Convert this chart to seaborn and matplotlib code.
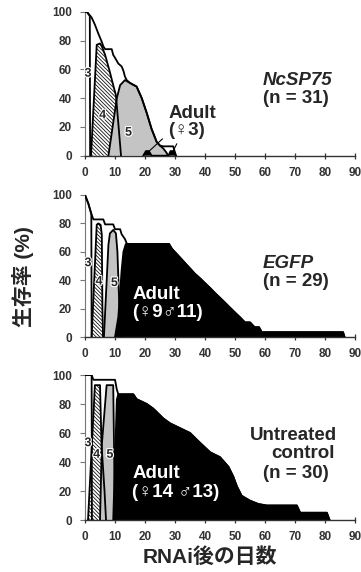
import numpy as np
import pandas as pd
import matplotlib
matplotlib.use('Agg')
import matplotlib.pyplot as plt
import matplotlib.patheffects as pe
import seaborn as sns

sns.set_style('ticks')
plt.rcParams['font.family'] = ['Liberation Sans', 'Noto Sans CJK JP', 'DejaVu Sans']
plt.rcParams['hatch.linewidth'] = 0.6

# ============ データ（日数, 生存率 %）============
# NcSP75 (n = 31)
ncsp_total_x = [0, 0.6, 2.2, 3.3, 4.4, 5.6, 6.1, 6.7, 8.9, 9.4, 10.0, 11.1, 12.2, 12.8, 13.3, 13.9,
                15.0, 17.2, 18.9, 20.6, 22.2, 23.9, 25.0, 26.1, 29.4, 30.3]
ncsp_total_y = [100, 100, 96, 91, 85, 79, 76, 74, 74, 70, 68, 64, 62, 59, 55, 52.5,
                50.5, 48, 40, 29.5, 18.5, 9.5, 7, 6.5, 6.5, 0]
ncsp_s3_x = [0, 0.6, 1.6, 1.7]
ncsp_s3_y = [100, 100, 97, 0]
ncsp_s4_x = [2.0, 3.9, 5.0, 5.6, 6.7, 8.3, 9.4, 10.3, 11.2, 12.0]
ncsp_s4_y = [0, 77, 78, 76, 70, 58, 49, 42, 20, 0]
ncsp_s5_x = [7.8, 10.6, 11.7, 13.3, 15.0, 17.2, 18.9, 20.6, 22.2, 23.9, 25.0, 26.1, 27.2, 27.6]
ncsp_s5_y = [0, 40, 49, 52.5, 50.5, 48, 40, 29.5, 18.5, 9.5, 7, 5, 2, 0]
ncsp_ad_x = [19.4, 20.3, 21.3, 22.2, 27.8, 28.5, 29.5, 30.3]
ncsp_ad_y = [0, 3.2, 3.2, 0, 0, 3.2, 3.2, 0]

# EGFP (n = 29)
egfp_total_x = [0, 1.1, 2.2, 2.8, 6.1, 6.7, 9.4, 10.0, 11.7, 12.2, 13.3, 14.0, 28.0, 29.0, 30.5,
                32.0, 33.5, 35.0, 36.5, 38.3, 40.0, 41.7, 43.3, 45.0, 46.7, 48.3, 50.0, 51.7,
                53.3, 55.0, 56.5, 58.0, 58.9, 86.0, 86.5]
egfp_total_y = [100, 94, 86.2, 82.8, 82.8, 79.3, 79.3, 75.9, 75.9, 72.4, 69, 65.5, 65.5, 62, 58.6,
                55.2, 51.7, 48.3, 44.8, 41.4, 37.9, 34.5, 31, 27.6, 24.1, 20.7, 17.2, 13.8,
                10.3, 10.3, 6.9, 6.9, 3.4, 3.4, 0]
egfp_s3_x = [0, 1.1, 2.1, 2.2]
egfp_s3_y = [100, 94, 86.5, 0]
egfp_s4_x = [2.2, 3.9, 4.4, 5.2, 5.6, 5.8, 6.0]
egfp_s4_y = [0, 79, 80, 79, 72, 20, 0]
egfp_s5_x = [6.3, 7.8, 8.3, 9.4, 10.3, 10.8, 11.3, 11.8]
egfp_s5_y = [0, 65, 73, 75.4, 73, 60, 30, 0]
egfp_ad_x = [10.0, 11.1, 12.2, 12.8, 13.6, 28.0, 29.0, 30.5, 32.0, 33.5, 35.0, 36.5, 38.3, 40.0,
             41.7, 43.3, 45.0, 46.7, 48.3, 50.0, 51.7, 53.3, 55.0, 56.5, 58.0, 58.9, 86.0, 86.5]
egfp_ad_y = [0, 14, 47, 60, 65.5, 65.5, 62, 58.6, 55.2, 51.7, 48.3, 44.8, 41.4, 37.9,
             34.5, 31, 27.6, 24.1, 20.7, 17.2, 13.8, 10.3, 10.3, 6.9, 6.9, 3.4, 3.4, 0]

# Untreated control (n = 30)
ctrl_total_x = [0, 2.2, 2.8, 10.0, 10.6, 11.1, 16.1, 17.2, 20.6, 22.8, 26.1, 28.3, 31.7, 35.0,
                38.3, 41.7, 45.0, 47.8, 49.4, 50.6, 52.2, 55.0, 57.8, 60.6, 70.6, 71.7, 80.6, 81.5]
ctrl_total_y = [100, 100, 96.7, 96.7, 90, 86.7, 86.7, 83.3, 80, 76.7, 70, 66.7, 63.3, 60,
                53.3, 46.7, 43.3, 36.7, 30, 23.3, 16.7, 13.3, 11, 10, 10, 5, 5, 0]
ctrl_s3_x = [0, 2.2, 2.3]
ctrl_s3_y = [100, 100, 0]
ctrl_s4_x = [1.0, 3.3, 5.0, 5.5, 6.5, 7.0]
ctrl_s4_y = [0, 93, 93, 52, 20, 0]
ctrl_s5_x = [5.0, 5.6, 7.2, 9.4, 10.0]
ctrl_s5_y = [0, 52, 93, 93, 0]
ctrl_ad_x = [9.4, 10.6, 11.1, 16.1, 17.2, 20.6, 22.8, 26.1, 28.3, 31.7, 35.0, 38.3, 41.7, 45.0,
             47.8, 49.4, 50.6, 52.2, 55.0, 57.8, 60.6, 70.6, 71.7, 80.6, 81.5]
ctrl_ad_y = [0, 83, 86.7, 86.7, 83.3, 80, 76.7, 70, 66.7, 63.3, 60, 53.3, 46.7, 43.3,
             36.7, 30, 23.3, 16.7, 13.3, 11, 10, 10, 5, 5, 0]

panels = [
    dict(total=(ncsp_total_x, ncsp_total_y), s3=(ncsp_s3_x, ncsp_s3_y), s4=(ncsp_s4_x, ncsp_s4_y),
         s5=(ncsp_s5_x, ncsp_s5_y), ad=(ncsp_ad_x, ncsp_ad_y)),
    dict(total=(egfp_total_x, egfp_total_y), s3=(egfp_s3_x, egfp_s3_y), s4=(egfp_s4_x, egfp_s4_y),
         s5=(egfp_s5_x, egfp_s5_y), ad=(egfp_ad_x, egfp_ad_y)),
    dict(total=(ctrl_total_x, ctrl_total_y), s3=(ctrl_s3_x, ctrl_s3_y), s4=(ctrl_s4_x, ctrl_s4_y),
         s5=(ctrl_s5_x, ctrl_s5_y), ad=(ctrl_ad_x, ctrl_ad_y)),
]

# 描画スタイル（背面→前面）
styles = [('total', 'white', None), ('s3', 'white', None), ('s4', 'white', '\\' * 9),
          ('s5', '#c4c4c4', None), ('ad', 'black', None)]

fig = plt.figure(figsize=(3.61, 5.72), dpi=100)
boxes = [(0.2355, 0.7278, 0.748, 0.2517), (0.2355, 0.4108, 0.748, 0.2483),
         (0.2355, 0.0909, 0.748, 0.2535)]
axes = [fig.add_axes(b) for b in boxes]

for ax, p in zip(axes, panels):
    for key, fc, hatch in styles:
        x, y = p[key]
        ax.fill_between(x, y, 0, facecolor=fc, edgecolor='#111111' if hatch else 'none',
                        hatch=hatch, linewidth=0, zorder=2)
        df = pd.DataFrame({'day': x, 'pct': y})
        sns.lineplot(data=df, x='day', y='pct', ax=ax, color='black', lw=1.3,
                     sort=False, estimator=None, zorder=3)
    ax.set_xlim(0, 90)
    ax.set_ylim(0, 100)
    ax.set_xticks(range(0, 91, 10))
    ax.set_yticks(range(0, 101, 20))
    ax.set_xlabel('')
    ax.set_ylabel('')
    sns.despine(ax=ax)
    ax.spines['left'].set_color('#777777')
    ax.spines['bottom'].set_linewidth(1.0)
    ax.spines['bottom'].set_color('#333333')
    ax.tick_params(axis='x', direction='inout', length=4.5, width=0.9, pad=6, color='#333333')
    ax.tick_params(axis='y', direction='out', length=3.5, width=0.8, pad=6, color='#777777')
    for lab in ax.get_xticklabels() + ax.get_yticklabels():
        lab.set_fontsize(8.5)
        lab.set_fontweight('bold')
        lab.set_color('#333333')
    ax.set_facecolor('none')

# ステージ番号
stage_labels = [
    [(1.0, 57, '3'), (5.9, 28, '4'), (14.5, 16, '5')],
    [(1.0, 52, '3'), (4.7, 39, '4'), (9.8, 38, '5')],
    [(1.0, 53, '3'), (3.9, 45, '4'), (8.3, 45, '5')],
]
halo = [pe.withStroke(linewidth=1.6, foreground='white')]
for ax, labs in zip(axes, stage_labels):
    for x, y, t in labs:
        ax.text(x, y, t, ha='center', va='center', fontsize=9, fontweight='bold', zorder=5,
                path_effects=halo)

big = dict(fontsize=13.5, fontweight='bold', va='center', zorder=5)

# 成虫ラベル
axes[0].text(27.7, 29.3, 'Adult', ha='left', **big)
axes[0].text(27.7, 17.5, '(♀3)', ha='left', **big)
axes[0].annotate('', xy=(20.6, 1.7), xytext=(26.5, 13), zorder=5,
                 arrowprops=dict(arrowstyle='-', color='black', lw=0.8))
axes[0].annotate('', xy=(28.9, 1.3), xytext=(31.0, 10), zorder=5,
                 arrowprops=dict(arrowstyle='-', color='black', lw=0.8))
axes[1].text(15.7, 29.6, 'Adult', ha='left', color='white', **big)
axes[1].text(15.7, 17.2, '(♀9♂11)', ha='left', color='white', **big)
axes[2].text(15.7, 32, 'Adult', ha='left', color='white', **big)
axes[2].text(15.7, 19, '(♀14 ♂13)', ha='left', color='white', **big)

# 処理区ラベル
axes[0].text(59.3, 51.9, 'NcSP75', ha='left', style='italic', **big)
axes[0].text(59.3, 39.4, '(n = 31)', ha='left', **big)
axes[1].text(59.3, 51.9, 'EGFP', ha='left', style='italic', **big)
axes[1].text(59.3, 39.0, '(n = 29)', ha='left', **big)
axes[2].text(84.0, 58.6, 'Untreated', ha='right', **big)
axes[2].text(83.4, 46.0, 'control', ha='right', **big)
axes[2].text(59.3, 32.0, '(n = 30)', ha='left', **big)

fig.text(0.064, 0.517, '生存率 (%)', rotation=90, ha='center', va='center', fontsize=15,
         fontweight='bold')
fig.text(0.582, 0.026, 'RNAi後の日数', ha='center', va='center', fontsize=15, fontweight='bold')

fig.savefig('out.png', dpi=100)
